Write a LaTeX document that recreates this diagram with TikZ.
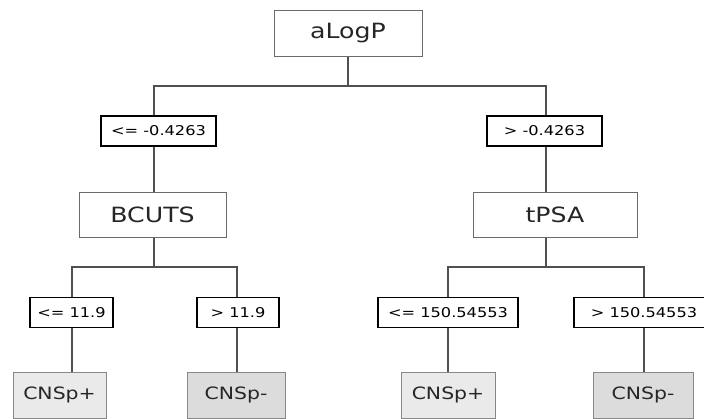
\documentclass[tikz,border=0pt]{standalone}
\usepackage{fontspec}
\newfontfamily\dvfont[FakeStretch=1.2]{DejaVu Sans}
\usetikzlibrary{backgrounds}
\definecolor{linegray}{HTML}{505050}
\definecolor{boxgray}{HTML}{6A6A6A}
\definecolor{leafA}{HTML}{EAEAEA}
\definecolor{leafB}{HTML}{DCDCDC}
\tikzset{
  split/.style={draw=boxgray, line width=0.9pt, fill=white, inner sep=0pt,
    font=\dvfont\fontsize{21}{24}\selectfont, text=black!85},
  cond/.style={draw=black, line width=1.6pt, fill=white, inner sep=0pt,
    minimum height=30pt, font=\dvfont\fontsize{13.5}{16}\selectfont},
  leaf/.style={draw=boxgray!80, line width=0.9pt, inner sep=0pt,
    minimum height=46pt, font=\dvfont\fontsize{17}{20}\selectfont, text=black!85},
  conn/.style={draw=linegray, line width=1.5pt, line cap=rect}
}
\begin{document}
\begin{tikzpicture}[x=1pt,y=-1pt]
\useasboundingbox (0,0) rectangle (704,418);
\clip (0,0) rectangle (704,418);
% split nodes
\node[split, minimum width=148pt, minimum height=46pt] (root) at (348,33) {aLogP};
\node[split, minimum width=147pt, minimum height=45pt] (bcuts) at (152.5,214.5) {BCUTS};
\node[split, minimum width=164pt, minimum height=45pt] (tpsa) at (555,214.5) {tPSA};
% conditions
\node[cond, minimum width=115pt] (c1) at (158.5,131) {<= -0.4263};
\node[cond, minimum width=115pt] (c2) at (544.5,131) {> -0.4263};
\node[cond, minimum width=83pt] (c3) at (71.5,312.5) {<= 11.9};
\node[cond, minimum width=82pt] (c4) at (238,312.5) {> 11.9};
\node[cond, minimum width=140pt] (c5) at (448,312.5) {<= 150.54553};
\node[cond, minimum width=140pt] (c6) at (644,312.5) {> 150.54553};
% leaves
\node[leaf, fill=leafA, minimum width=93pt] (l1) at (59.5,395) {CNSp+};
\node[leaf, fill=leafB, minimum width=98pt] (l2) at (236,395) {CNSp-};
\node[leaf, fill=leafA, minimum width=94pt] (l3) at (448,395) {CNSp+};
\node[leaf, fill=leafB, minimum width=100pt] (l4) at (643,395) {CNSp-};
% junctions
\coordinate (j1) at (348,86);
\coordinate (j1L) at (154,86);
\coordinate (j1R) at (546,86);
\coordinate (j2) at (154,267);
\coordinate (j2L) at (72,267);
\coordinate (j2R) at (237,267);
\coordinate (j3) at (546,267);
\coordinate (j3L) at (448,267);
\coordinate (j3R) at (644,267);
\begin{scope}[on background layer]
\fill[white] (0,0) rectangle (704,418);
\draw[conn] (root.south) -- (j1);
\draw[conn] (j1L) -- (j1R);
\draw[conn] (j1L) -- (bcuts.north -| j1L);
\draw[conn] (j1R) -- (tpsa.north -| j1R);
\draw[conn] (bcuts.south -| j2) -- (j2);
\draw[conn] (j2L) -- (j2R);
\draw[conn] (j2L) -- (l1.north -| j2L);
\draw[conn] (j2R) -- (l2.north -| j2R);
\draw[conn] (tpsa.south -| j3) -- (j3);
\draw[conn] (j3L) -- (j3R);
\draw[conn] (j3L) -- (l3.north -| j3L);
\draw[conn] (j3R) -- (l4.north -| j3R);
\end{scope}
\end{tikzpicture}
\end{document}
